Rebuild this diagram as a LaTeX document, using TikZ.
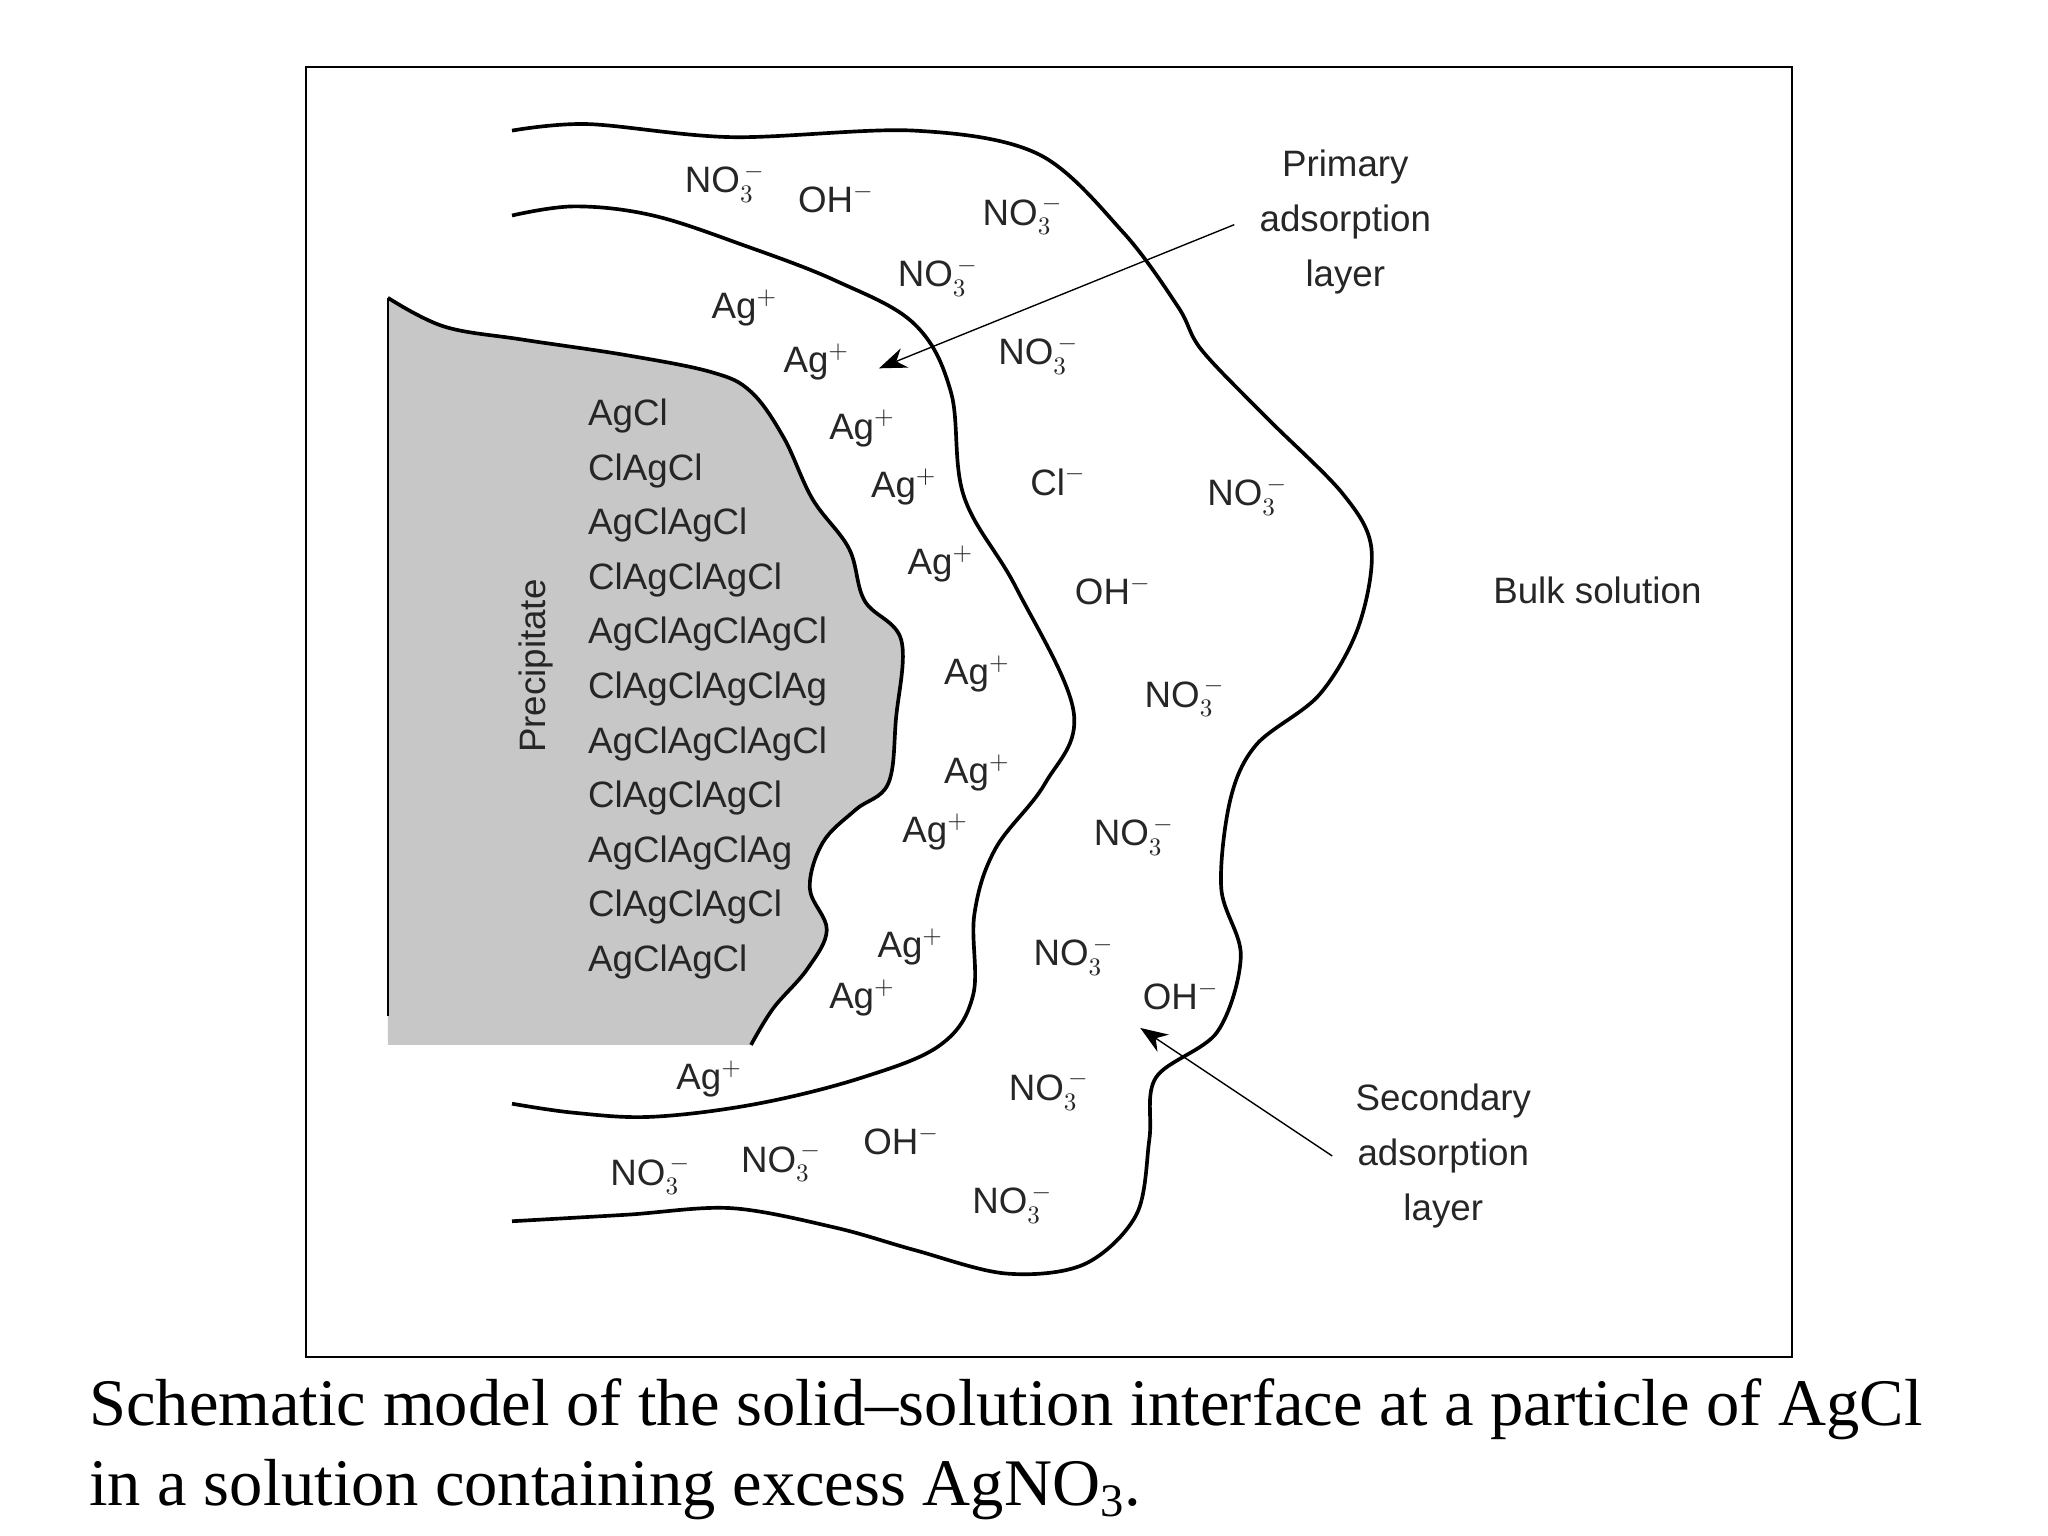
\documentclass[tikz,border=0pt]{standalone}
\usepackage{fontspec}
\setmainfont{Liberation Sans}
\newfontfamily\capfont{Liberation Serif}
\usetikzlibrary{arrows.meta}
\tikzset{lab/.style={font=\fontsize{16}{19}\selectfont,inner sep=0pt,text=black!85},
 curve/.style={line width=1.6pt,black}}
\newcommand{\NOt}{NO$_3^{\,-}$}
\newcommand{\Agp}{Ag$^+$}
\begin{document}
\begin{tikzpicture}[x=0.02cm,y=-0.02cm]
\useasboundingbox (0,0) rectangle (1568,1176);
\draw[line width=0.8pt] (234,51) rectangle (1372,1039);
% precipitate
\fill[black!22] (297,228) -- plot[smooth,tension=0.6] coordinates {(297,228)(340,250)(400,260)(480,272)(545,285)(575,300)(600,335)(622,382)(650,420)(662,460)(690,490)(686,550)(680,600)(655,620)(630,645)(620,680)(633,712)(618,742)(592,772)(575,800)} -- (297,800) -- cycle;
\draw[curve] plot[smooth,tension=0.6] coordinates {(297,228)(340,250)(400,260)(480,272)(545,285)(575,300)(600,335)(622,382)(650,420)(662,460)(690,490)(686,550)(680,600)(655,620)(630,645)(620,680)(633,712)(618,742)(592,772)(575,800)};
\draw[line width=1pt] (297,228) -- (297,778);
% primary layer
\draw[curve] plot[smooth,tension=0.6] coordinates {(392,165)(440,158)(500,165)(570,188)(640,215)(700,248)(728,300)(738,380)(778,450)(822,545)(800,600)(762,650)(746,700)(745,762)(720,800)(660,825)(580,845)(500,855)(440,852)(392,845)};
% secondary layer
\draw[curve] plot[smooth,tension=0.55] coordinates {(392,100)(450,95)(560,105)(700,100)(795,118)(860,178)(902,235)(920,268)(970,320)(1028,378)(1050,420)(1040,480)(1010,532)(962,570)(942,612)(935,680)(950,732)(932,790)(885,825)(880,872)(870,930)(830,968)(770,975)(700,957)(640,940)(560,925)(480,930)(392,935)};
% arrows
\coordinate (p1) at (945,172); \coordinate (p2) at (673,282);
\coordinate (s1) at (1020,885); \coordinate (s2) at (873,787);
\draw[-{Stealth[length=12pt,width=9pt]},line width=0.6pt] (p1) -- (p2);
\draw[-{Stealth[length=12pt,width=9pt]},line width=0.6pt] (s1) -- (s2);
% texts
\node[lab,rotate=90] (prec) at (410,510) {Precipitate};
\node[lab,align=left,anchor=north west,font=\fontsize{16}{23.8}\selectfont] (stack) at (450,305) {AgCl\\ClAgCl\\AgClAgCl\\ClAgClAgCl\\AgClAgClAgCl\\ClAgClAgClAg\\AgClAgClAgCl\\ClAgClAgCl\\AgClAgClAg\\ClAgClAgCl\\AgClAgCl};
\node[lab,align=center,font=\fontsize{16}{23.8}\selectfont] (prim) at (1030,170) {Primary\\adsorption\\layer};
\node[lab,align=center,font=\fontsize{16}{23.8}\selectfont] (sec) at (1105,885) {Secondary\\adsorption\\layer};
\node[lab] (bulk) at (1223,452) {Bulk solution};
\foreach \x/\y [count=\i] in {555/140,783/165,718/212,795/272,955/380,907/534,868/640,822/732,803/835,498/900,598/890,775/922}
  \node[lab] (n\i) at (\x,\y) {\NOt};
\foreach \x/\y [count=\i] in {570/236,625/277,660/328,692/373,720/432,748/516,748/592,716/637,697/725,660/764,543/826}
  \node[lab] (a\i) at (\x,\y) {\Agp};
\foreach \x/\y [count=\i] in {640/152,852/452,904/762,690/873}
  \node[lab] (o\i) at (\x,\y) {OH$^-$};
\node[lab] (cl) at (810,368) {Cl$^-$};
\node[anchor=north west,align=left,font=\capfont\fontsize{29}{35}\selectfont,inner sep=0pt] (cap) at (68,1055) {Schematic model of the solid–solution interface at a particle of AgCl\\in a solution containing excess AgNO\textsubscript{3}.};
\end{tikzpicture}
\end{document}
